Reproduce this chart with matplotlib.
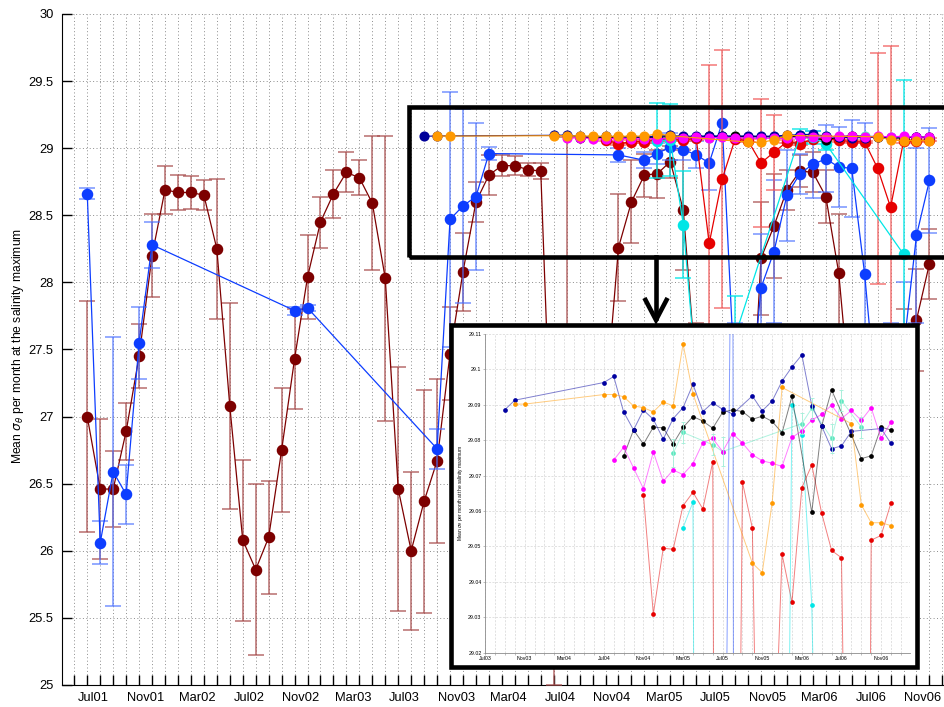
import numpy as np
import matplotlib.pyplot as plt
from matplotlib.patches import Rectangle
from matplotlib.lines import Line2D

plt.rcParams['font.family'] = ['Liberation Sans', 'DejaVu Sans']
plt.rcParams['mathtext.fontset'] = 'dejavusans'

# x values: months counted from Jul 2001
tick_names = ['Jul01', 'Nov01', 'Mar02', 'Jul02', 'Nov02', 'Mar03', 'Jul03', 'Nov03', 'Mar04',
              'Jul04', 'Nov04', 'Mar05', 'Jul05', 'Nov05', 'Mar06', 'Jul06', 'Nov06']
tick_months = list(range(0, 65, 4))
inset_names = tick_names[6:]
inset_months = list(range(24, 65, 4))

maroon_month = list(range(66))
maroon_val = [27.00, 26.46, 26.46, 26.89, 27.45, 28.20, 28.69, 28.67, 28.67, 28.65,
              28.25, 27.08, 26.08, 25.86, 26.10, 26.75, 27.43, 28.04, 28.45, 28.66,
              28.82, 28.78, 28.59, 28.03, 26.46, 26.00, 26.37, 26.67, 27.47, 28.08,
              28.60, 28.80, 28.87, 28.87, 28.84, 28.83, 26.20, 27.20, 26.40, 26.80,
              27.10, 28.26, 28.60, 28.80, 28.81, 28.90, 28.54, 27.30, 26.70, 26.20,
              26.50, 26.40, 28.18, 28.42, 28.69, 28.83, 28.82, 28.64, 28.07, 27.00,
              26.30, 25.90, 26.40, 27.30, 27.72, 28.14]
maroon_err = [0.86, 0.52, 0.28, 0.21, 0.24, 0.31, 0.18, 0.13, 0.12, 0.11,
              0.52, 0.77, 0.60, 0.64, 0.42, 0.46, 0.37, 0.31, 0.19, 0.18,
              0.15, 0.13, 0.50, 1.06, 0.91, 0.59, 0.83, 0.61, 0.35, 0.29,
              0.15, 0.15, 0.08, 0.07, 0.05, 0.06, 1.20, 1.88, 0.60, 0.60,
              0.50, 0.40, 0.31, 0.16, 0.18, 0.12, 0.45, 0.40, 0.60, 0.60,
              0.60, 0.60, 0.42, 0.39, 0.15, 0.12, 0.15, 0.20, 0.44, 0.50,
              0.60, 0.60, 0.60, 0.50, 0.38, 0.26]

blue_month = [0, 1, 2, 3, 4, 5, 16, 17, 27, 28, 29, 30, 31, 41, 43, 44, 45, 46, 47, 48, 49,
              50, 51, 52, 53, 54, 55, 56, 57, 58, 59, 60, 61, 62, 63, 64, 65]
blue_val = [28.66, 26.06, 26.59, 26.42, 27.55, 28.28, 27.79, 27.81, 26.76, 28.47, 28.57,
            28.64, 28.96, 28.95, 28.91, 28.96, 29.01, 28.99, 28.95, 28.89, 29.19, 27.20,
            26.90, 27.96, 28.23, 28.65, 28.81, 28.88, 28.92, 28.86, 28.85, 28.06, 27.00,
            26.90, 27.50, 28.35, 28.76]
blue_err = [0.04, 0.16, 1.00, 0.22, 0.27, 0.17, 0.03, 0.02, 0.15, 0.95, 0.72, 0.55, 0.05,
            0.05, 0.06, 0.08, 0.10, 0.08, 0.10, 0.20, 0.10, 0.50, 0.50, 0.40, 0.53, 0.34,
            0.15, 0.25, 0.25, 0.30, 0.36, 1.13, 0.60, 0.80, 0.50, 0.65, 0.39]

red_month = list(range(40, 66))
red_val = [29.0646, 29.0309, 29.0495, 29.0492, 29.0615, 29.0653, 29.0606, 29.0739, 28.29,
           28.77, 29.0681, 29.0552, 28.89, 28.97, 29.0478, 29.0342, 29.0666, 29.0730,
           29.0594, 29.0489, 29.0468, 28.85, 28.56, 29.0518, 29.0531, 29.0623]
red_err = [0.01, 0.01, 0.01, 0.01, 0.01, 0.01, 0.01, 0.01, 1.33, 0.96, 0.01, 0.01, 0.48,
           0.28, 0.01, 0.01, 0.01, 0.01, 0.01, 0.01, 0.01, 0.86, 1.20, 0.01, 0.01, 0.01]

cyan_month = [44, 45, 46, 47, 50, 55, 56, 57, 63]
cyan_val = [29.0553, 29.0625, 28.43, 27.30, 27.60, 29.0900, 29.0814, 29.0336, 28.21]
cyan_err = [0.28, 0.27, 0.40, 0.30, 0.30, 0.05, 0.05, 0.05, 1.30]

aqua_month = [43, 44, 47, 48, 56, 57, 59, 60, 62]
aqua_val = [29.0763, 29.0822, 29.0787, 29.0768, 29.0847, 29.0890, 29.0805, 29.0912, 29.0837]
aqua_err = [0.004, 0.003, 0.003, 0.004, 0.003, 0.003, 0.004, 0.003, 0.003]

black_month = [38, 39, 40, 41, 42, 43, 44, 45, 46, 47, 48, 49, 50, 51, 52, 53, 54, 55,
               57, 58, 59, 61, 62, 63, 64, 65]
black_val = [29.0755, 29.0829, 29.0789, 29.0837, 29.0835, 29.0790, 29.0836, 29.0867,
             29.0854, 29.0834, 29.0879, 29.0886, 29.0881, 29.0859, 29.0868, 29.0853,
             29.0821, 29.0924, 29.0596, 29.0840, 29.0942, 29.0815, 29.0748, 29.0756,
             29.0837, 29.0829]

navy_month = [26, 27, 36, 37, 38, 39, 40, 41, 42, 43, 44, 45, 46, 47, 48, 49, 51, 52, 53,
              54, 55, 56, 57, 58, 59, 60, 61, 64, 65]
navy_val = [29.0886, 29.0913, 29.0963, 29.0980, 29.0880, 29.0829, 29.0885, 29.0859,
            29.0803, 29.0861, 29.0892, 29.0958, 29.0881, 29.0906, 29.0887, 29.0874,
            29.0925, 29.0883, 29.0911, 29.0967, 29.1007, 29.1041, 29.0898, 29.0840,
            29.0776, 29.0784, 29.0825, 29.0833, 29.0791]

magenta_month = list(range(37, 66))
magenta_val = [29.0744, 29.0780, 29.0722, 29.0663, 29.0767, 29.0684, 29.0716, 29.0703,
               29.0734, 29.0793, 29.0805, 29.0768, 29.0819, 29.0792, 29.0759, 29.0742,
               29.0735, 29.0726, 29.0808, 29.0826, 29.0857, 29.0873, 29.0899, 29.0861,
               29.0884, 29.0856, 29.0892, 29.0805, 29.0851]

orange_month = [27, 28, 36, 37, 38, 39, 40, 41, 42, 43, 44, 45, 51, 52, 53, 54, 61, 62, 63, 64, 65]
orange_val = [29.0902, 29.0902, 29.0929, 29.0929, 29.0923, 29.0897, 29.0892, 29.0880,
              29.0908, 29.0897, 29.1072, 29.0931, 29.0453, 29.0426, 29.0624, 29.0949,
              29.0847, 29.0618, 29.0567, 29.0567, 29.0559]

W, H = 945, 707
fig = plt.figure(figsize=(W / 100, H / 100), dpi=100)


def fx(px):
    return px / W


def fy(py):
    return 1 - py / H


ax = fig.add_axes([fx(62), fy(685), (W - 62) / W, (685 - 14) / H])
ax.set_xlim(-1.95, 66.2)
ax.set_ylim(25, 30)
for s in ['top', 'right']:
    ax.spines[s].set_visible(False)

ax.set_xticks(range(-1, 67))
ax.set_xticklabels([])
ax.set_xticks([m + 0.5 for m in tick_months], tick_names, minor=True)
yt = np.arange(25, 30.01, 0.5)
ax.set_yticks(yt, [f'{v:g}' for v in yt])
ax.tick_params(which='major', direction='in', length=7, width=1, labelsize=9.3, pad=6)
ax.tick_params(axis='x', which='minor', length=0, labelsize=9.3, pad=5)
ax.grid(True, which='major', ls=(0, (1, 2.5)), color='#8c8c8c', lw=0.7)

ms = 7.3


def err_series(month, val, err, c, ec, z):
    ax.errorbar(month, val, yerr=err, fmt='o-', color=c, mec=c, ms=ms, lw=0.9,
                ecolor=ec, elinewidth=1.2, capsize=5.5, capthick=1.2, zorder=z)


err_series(maroon_month, maroon_val, maroon_err, '#7d0000', (0.66, 0.3, 0.3, 0.75), 3)
err_series(blue_month, blue_val, blue_err, '#0d3dff', (0.3, 0.45, 1.0, 0.7), 4)
err_series(red_month, red_val, red_err, '#e60000', (0.95, 0.35, 0.35, 0.75), 5)
err_series(cyan_month, cyan_val, cyan_err, '#00e6e6', (0.0, 0.9, 0.9, 0.8), 5)
ax.plot(aqua_month, aqua_val, 'o-', color='#5fe8c0', ms=ms, mew=0, lw=0.8, zorder=5)
ax.plot(black_month, black_val, 'o-', color='black', ms=ms, mew=0, lw=0.8, zorder=6)
ax.plot(navy_month, navy_val, 'o-', color='#000099', ms=ms, mew=0, lw=0.8, zorder=6)
ax.plot(magenta_month, magenta_val, 'o-', color='#ff00ff', ms=ms, mew=0, lw=0.8, zorder=7)
ax.plot(orange_month, orange_val, 'o-', color='#ff9900', ms=ms, mew=0, lw=0.8, zorder=8)

fig.text(fx(18), fy(346), r'Mean $\sigma_\theta$ per month at the salinity maximum',
         rotation=90, ha='center', va='center', fontsize=8.7)

# zoom box, arrow and inset frame
lw_box = 3.3
fig.add_artist(Rectangle((fx(408.7), fy(256.5)), 0.6, (256.5 - 107) / H, fill=False,
                         ec='black', lw=lw_box, transform=fig.transFigure, zorder=3,
                         clip_on=False))
fig.add_artist(Line2D([fx(656), fx(656)], [fy(257), fy(318)], color='black', lw=lw_box,
                      transform=fig.transFigure, zorder=3))
fig.add_artist(Line2D([fx(645.5), fx(656), fx(666.5)], [fy(300), fy(320), fy(300)],
                      color='black', lw=lw_box, transform=fig.transFigure, zorder=3,
                      solid_joinstyle='miter'))
fig.add_artist(Rectangle((fx(451.5), fy(667.2)), (917.5 - 451.5) / W, (667.2 - 324.7) / H,
                         fc='white', ec='black', lw=lw_box, transform=fig.transFigure,
                         zorder=4))

axi = fig.add_axes([fx(485), fy(652.7), 425 / W, 318.7 / H], zorder=5)
axi.set_xlim(24.03, 66.92)
axi.set_ylim(29.02, 29.11)
for s in ['top', 'right']:
    axi.spines[s].set_visible(False)
for s in ['left', 'bottom']:
    axi.spines[s].set_color('#8c8c8c')
    axi.spines[s].set_linewidth(0.6)
axi.set_xticks(range(24, 67))
axi.set_xticklabels([inset_names[inset_months.index(m)] if m in inset_months else ''
                     for m in range(24, 67)])
iyt = np.arange(29.02, 29.1101, 0.01)
axi.set_yticks(iyt, [f'{v:.2f}'.rstrip('0') for v in iyt])
axi.tick_params(length=1.5, width=0.4, color='#8c8c8c', labelsize=3.8, pad=1)
axi.grid(True, ls=(0, (3, 2)), color='#d4d4d4', lw=0.5)
fig.text(fx(460.5), fy(493), r'Mean $\sigma_\theta$ per month at the salinity maximum',
         rotation=90, ha='center', va='center', fontsize=3.5, zorder=6)

ims = 3.4
for mo, va, c in [(maroon_month, maroon_val, '#7d0000'), (blue_month, blue_val, '#0d3dff'),
                  (red_month, red_val, '#e60000'), (cyan_month, cyan_val, '#00e6e6'),
                  (aqua_month, aqua_val, '#5fe8c0'), (black_month, black_val, 'black'),
                  (navy_month, navy_val, '#0000a0'), (magenta_month, magenta_val, '#ff00ff'),
                  (orange_month, orange_val, '#ff9900')]:
    axi.plot(mo, va, '-', color=c, lw=0.7, alpha=0.5)
    axi.plot(mo, va, 'o', color=c, ms=ims, mew=0)
axi.errorbar(aqua_month, aqua_val, yerr=aqua_err, fmt='none', ecolor='#9ff0d8',
             elinewidth=0.6, capsize=1.5, capthick=0.6)

fig.savefig('out.png', dpi=100)
